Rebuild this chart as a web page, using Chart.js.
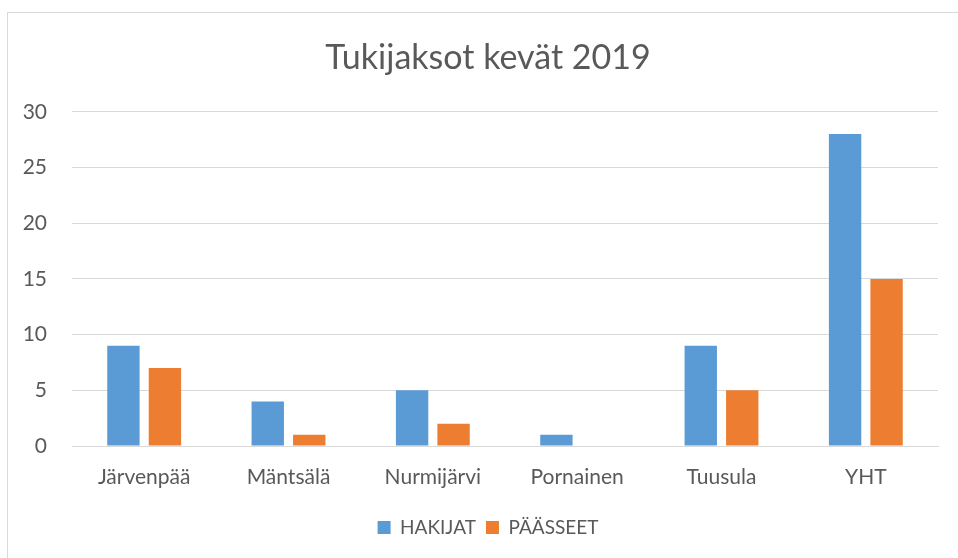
<!DOCTYPE html>
<html>
<head>
<meta charset="utf-8">
<script src="https://cdn.jsdelivr.net/npm/chart.js@4"></script>
<style>
  body { margin: 0; background: #fff; overflow: hidden; }
  #wrap { position: relative; width: 958px; height: 558px; }
  #frame { position: absolute; left: 7px; top: 12px; width: 960px; height: 560px; border: 1px solid #d9d9d9; box-sizing: border-box; }
  canvas { position: absolute; left: 0; top: 0; }
</style>
</head>
<body>
<div id="wrap">
  <div id="frame"></div>
  <canvas id="chart" width="958" height="558"></canvas>
</div>
<script>
const categories = ['Järvenpää', 'Mäntsälä', 'Nurmijärvi', 'Pornainen', 'Tuusula', 'YHT'];
const hakijat = [9, 4, 5, 1, 9, 28];
const paasseet = [7, 1, 2, 0, 5, 15];

document.addEventListener('DOMContentLoaded', function() {
  const ctx = document.getElementById('chart').getContext('2d');
  const fontFamily = 'Lato, "Open Sans", sans-serif';

  // the original centres title and legend a bit right of the canvas middle
  const shiftBoxes = {
    id: 'shiftBoxes',
    afterLayout: function(chart) {
      [chart.titleBlock, chart.legend].forEach(function(box) {
        if (box) { box.left += 19; box.right += 19; }
      });
    }
  };

  new Chart(ctx, {
    type: 'bar',
    data: {
      labels: categories,
      datasets: [
        {
          label: 'HAKIJAT',
          data: hakijat,
          backgroundColor: '#5B9BD5',
          categoryPercentage: 0.575,
          barPercentage: 0.78
        },
        {
          label: 'PÄÄSSEET',
          data: paasseet,
          backgroundColor: '#ED7D31',
          categoryPercentage: 0.575,
          barPercentage: 0.78
        }
      ]
    },
    options: {
      responsive: false,
      animation: false,
      layout: {
        padding: { left: 0, right: 20, top: 0, bottom: 11 }
      },
      scales: {
        x: {
          grid: { display: false, drawTicks: false },
          border: { display: true, color: '#d9d9d9', width: 1 },
          ticks: {
            color: '#595959',
            font: { family: fontFamily, size: 21 },
            padding: 19,
            maxRotation: 0
          },
          afterFit: function(scale) { scale.height = 62; }
        },
        y: {
          min: 0,
          max: 30,
          ticks: {
            stepSize: 5,
            color: '#595959',
            font: { family: fontFamily, size: 21 },
            padding: 25
          },
          grid: { color: '#d9d9d9', drawTicks: false },
          border: { display: false },
          afterFit: function(scale) { scale.width = 72; }
        }
      },
      plugins: {
        title: {
          display: true,
          text: 'Tukijaksot kevät 2019',
          color: '#595959',
          font: { family: fontFamily, size: 34, weight: 'normal' },
          padding: { top: 38, bottom: 33 }
        },
        legend: {
          position: 'bottom',
          labels: {
            color: '#595959',
            font: { family: fontFamily, size: 19 },
            boxWidth: 13,
            boxHeight: 13,
            padding: 10
          }
        },
        tooltip: { enabled: false }
      }
    },
    plugins: [shiftBoxes]
  });
});
</script>
</body>
</html>
